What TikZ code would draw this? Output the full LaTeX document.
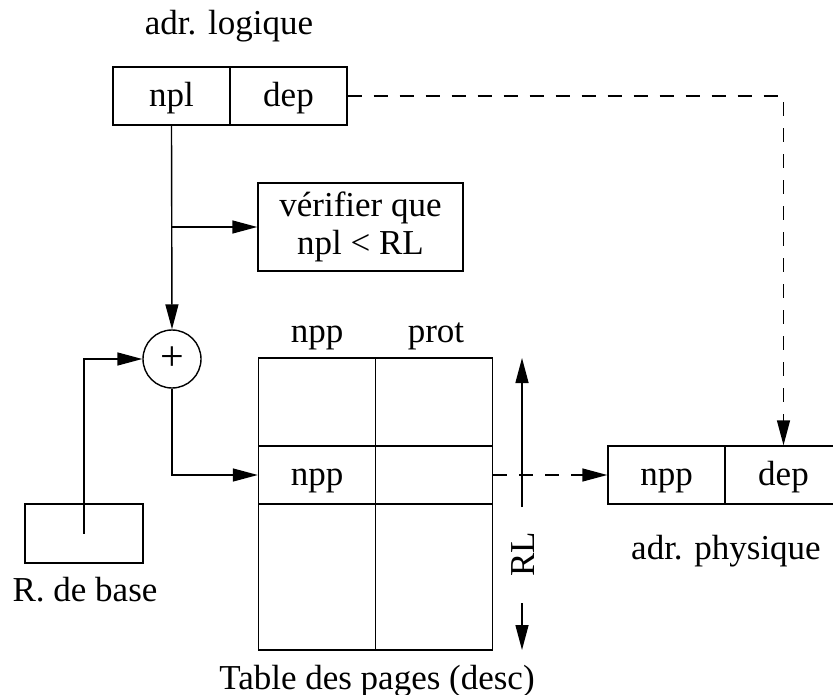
\documentclass[tikz,border=0pt]{standalone}
\usepackage{fontspec}
\setmainfont{Liberation Serif}
\usetikzlibrary{arrows.meta}
\begin{document}
\begin{tikzpicture}[x=1pt,y=-1pt,line width=1.4pt,
  every node/.style={font=\fontsize{35}{37.5}\selectfont,inner sep=0pt},
  cell/.style={draw,minimum width=117pt,minimum height=58pt,text height=24pt,text depth=3pt},
  tcell/.style={draw,minimum width=117pt,text height=24pt,text depth=3pt},
  lbl/.style={anchor=base},
  arr/.style={-{Triangle[length=25pt,width=13pt]}},
  dsh/.style={dash pattern=on 14pt off 12pt}]
\useasboundingbox (0,0) rectangle (833,695);
% logical address
\node[lbl] (lt) at (229,35) {adr. logique};
\node[cell] (npl) at (171.5,96) {npl};
\node[cell] (dep) at (288.5,96) {dep};
% check box
\node[draw,minimum width=205pt,minimum height=88pt,align=center] (ver) at (360.5,227) {vérifier que\\npl < RL};
% adder
\node[draw,circle,minimum size=58pt,font=\fontsize{42}{44}\selectfont] (plus) at (172,359) {};
\node[font=\fontsize{42}{44}\selectfont] (plussign) at (plus.center) {+};
% base register
\node[draw,minimum width=118pt,minimum height=59pt] (base) at (84,533.5) {};
\node[lbl] (bt) at (85,601) {R. de base};
% page table
\node[lbl] (h1) at (317,342) {npp};
\node[lbl] (h2) at (436,342) {prot};
\node[tcell,minimum height=88pt] (r1a) at (317,402) {};
\node[tcell,minimum height=88pt] (r1b) at (434,402) {};
\node[tcell,minimum height=58pt] (r2a) at (317,475) {npp};
\node[tcell,minimum height=58pt] (r2b) at (434,475) {};
\node[tcell,minimum height=146pt] (r3a) at (317,577) {};
\node[tcell,minimum height=146pt] (r3b) at (434,577) {};
\node[lbl] (tt) at (377,689) {Table des pages (desc)};
% RL
\node[rotate=90] (rl) at (523.5,554) {RL};
\coordinate (rl1) at (522,507);
\coordinate (rlt) at (522,358);
\coordinate (rl2) at (522,603);
\coordinate (rlb) at (522,650);
% physical address
\node[cell] (pn) at (666.5,475) {npp};
\node[cell] (pd) at (783.5,475) {dep};
\node[lbl] (pt) at (726,559) {adr. physique};
% connectors
\draw[arr] (npl.south) -- (plus.north);
\draw[arr] (npl.south |- ver.west) -- (ver.west);
\draw[arr] (base.center) |- (plus.west);
\draw[arr] (plus.south) |- (r2a.west);
\draw[arr] (rl1) -- (rlt);
\draw[arr] (rl2) -- (rlb);
\draw[dsh,arr] (r2b.east) -- (pn.west);
\draw[dsh,arr] (dep.east) -| (pd.north);
\end{tikzpicture}
\end{document}
